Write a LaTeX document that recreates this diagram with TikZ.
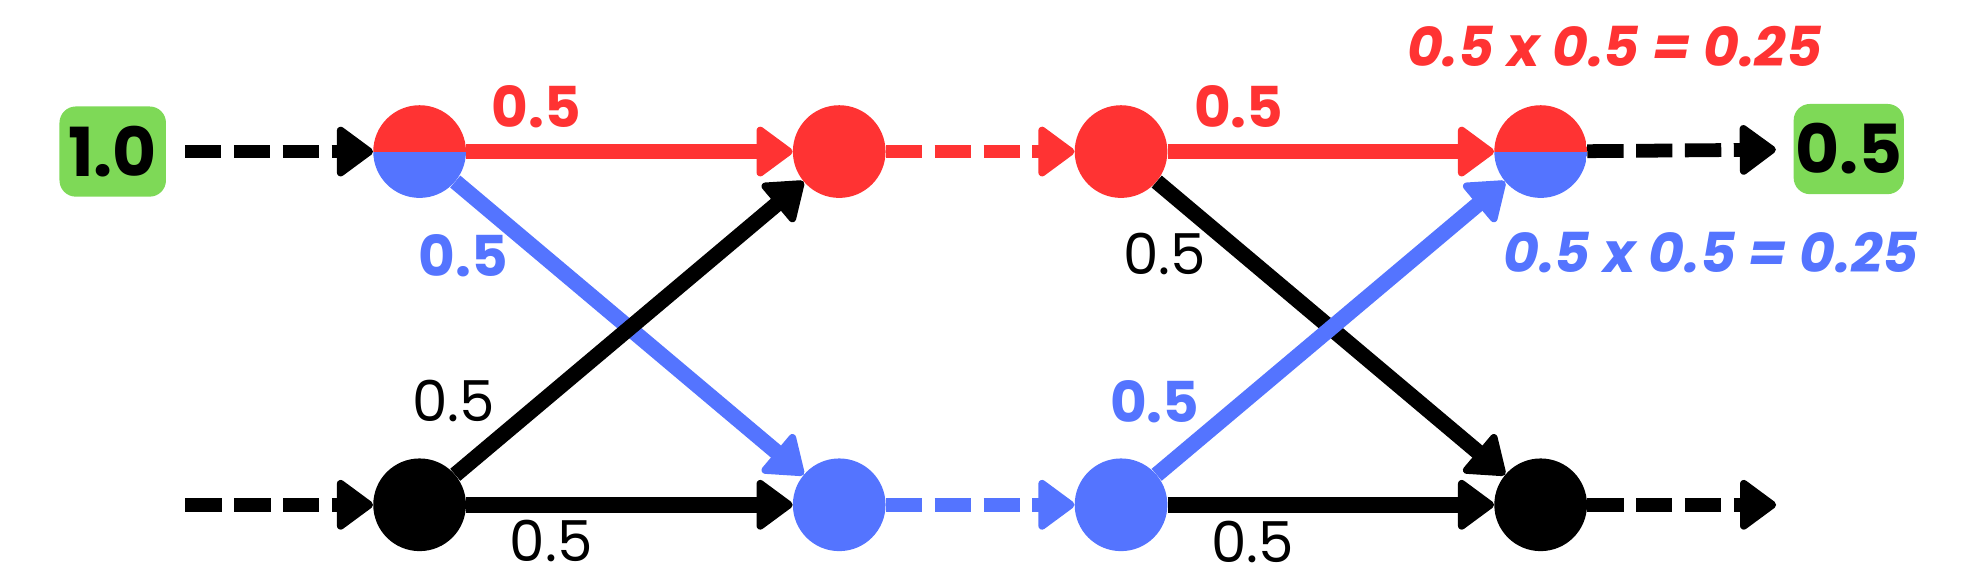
\documentclass[tikz,border=0pt]{standalone}
\usepackage{fontspec}
\setmainfont{Poppins}
\usetikzlibrary{arrows.meta}
\definecolor{rd}{HTML}{FF3333}
\definecolor{bl}{HTML}{5474FF}
\definecolor{gr}{HTML}{7ED957}
\begin{document}
\begin{tikzpicture}[x=1pt,y=-1pt,
 dot/.style={circle,minimum size=74pt,inner sep=0pt,fill=#1},
 split/.style={circle,minimum size=74pt,inner sep=0pt,
   path picture={\fill[rd] (path picture bounding box.west) rectangle (path picture bounding box.north east);
                 \fill[bl] (path picture bounding box.west) rectangle (path picture bounding box.south east);}},
 box/.style={fill=gr,rounded corners=13pt,minimum width=#1,minimum height=72pt,inner sep=0pt,font=\fontsize{54}{60}\selectfont\bfseries},
 con/.style={line width=12.5pt,-{Triangle[length=31pt,width=44pt,round,line width=6pt]}},
 dsh/.style={con,line width=11pt,dash pattern=on 29pt off 10pt},
 lbl/.style={inner sep=0pt,font=\fontsize{45}{50}\selectfont},
 blb/.style={inner sep=0pt,font=\fontsize{45}{50}\selectfont\bfseries},
 fml/.style={inner sep=0pt,font=\fontsize{44}{50}\selectfont\bfseries\itshape}]
\useasboundingbox (0,0) rectangle (1568,469);
% boxes
\node[box=85pt] (in) at (90,121) {1.0};
\node[box=88pt] (out) at (1476,119) {0.5};
% nodes
\node[split] (a1) at (335,121) {};
\node[dot=rd] (a2) at (670,121) {};
\node[dot=rd] (a3) at (895,121) {};
\node[split] (a4) at (1230,121) {};
\node[dot=black] (b1) at (335,403) {};
\node[dot=bl] (b2) at (670,403) {};
\node[dot=bl] (b3) at (895,403) {};
\node[dot=black] (b4) at (1230,403) {};
\coordinate (s) at (148,403);
\coordinate (e) at (1418,403);
% connectors
\draw[dsh,shorten <=15pt] (in) -- (a1);
\draw[dsh] (s) -- (b1);
\draw[con,rd] (a1) -- (a2);
\draw[dsh,rd] (a2) -- (a3);
\draw[con,rd] (a3) -- (a4);
\draw[dsh,shorten >=14pt] (a4) -- (out);
\draw[dsh] (b4) -- (e);
\draw[con] (b1) -- (b2);
\draw[dsh,bl] (b2) -- (b3);
\draw[con] (b3) -- (b4);
\draw[con,bl] (a1) -- (b2);
\draw[con] (b1) -- (a2);
\draw[con] (a3) -- (b4);
\draw[con,bl] (b3) -- (a4);
% labels
\node[blb,text=rd] (l1) at (428,85) {0.5};
\node[blb,text=bl] (l2) at (370,204) {0.5};
\node[lbl] (l3) at (362,320) {0.5};
\node[lbl] (l4) at (440,432) {0.5};
\node[lbl] (l5) at (930,203) {0.5};
\node[blb,text=rd] (l6) at (989,85) {0.5};
\node[blb,text=bl] (l7) at (922,321) {0.5};
\node[lbl] (l8) at (1000,433) {0.5};
\node[fml,text=rd] (f1) at (1289,37) {0.5 x 0.5 = 0.25};
\node[fml,text=bl] (f2) at (1366,202) {0.5 x 0.5 = 0.25};
\end{tikzpicture}
\end{document}
